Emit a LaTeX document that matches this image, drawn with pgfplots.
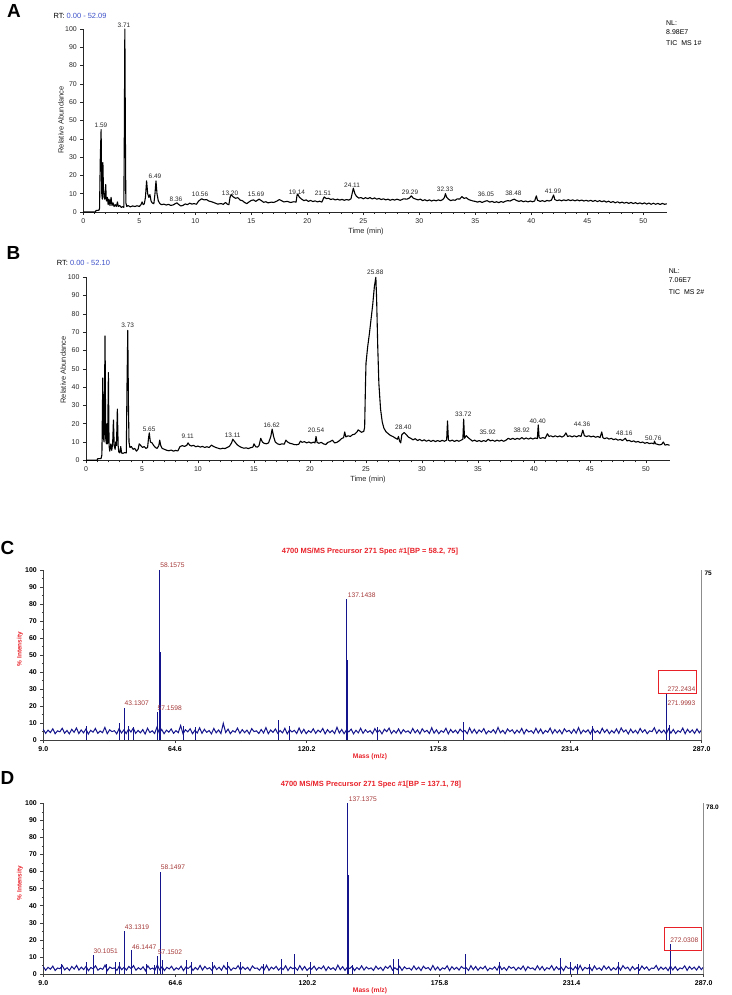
\documentclass[border=0pt]{standalone}
\usepackage{fontspec}
\setmainfont{Liberation Sans}
\usepackage{pgfplots}
\usepackage{pgfplotstable}
\pgfplotsset{compat=1.18}
\definecolor{navy}{RGB}{20,20,140}
\definecolor{titred}{RGB}{232,32,40}
\definecolor{peakred}{RGB}{165,55,55}
\definecolor{rtblue}{RGB}{60,80,200}
\newcommand{\fs}[1]{\fontsize{#1}{#1}\selectfont}
\pgfplotsset{/pgf/number format/assume math mode=true}

\pgfplotstableread[row sep=\\,header=false]{
6.2\\3.9\\5.8\\4.4\\6.6\\3.7\\5.4\\4.8\\6.9\\4.0\\5.6\\3.6\\6.3\\4.5\\7.1\\3.8\\5.9\\4.2\\6.5\\3.5\\
5.7\\4.6\\6.8\\3.9\\5.3\\4.3\\7.4\\3.7\\6.0\\4.9\\5.5\\3.6\\6.7\\4.1\\5.9\\3.8\\6.4\\4.7\\7.0\\3.9\\
5.6\\4.2\\6.1\\3.5\\6.9\\4.4\\5.4\\3.8\\7.6\\4.0\\6.2\\3.7\\5.8\\4.6\\6.5\\3.9\\5.5\\4.3\\8.5\\3.6\\
6.0\\4.8\\6.6\\3.7\\5.7\\4.1\\7.2\\3.9\\6.3\\4.5\\5.6\\3.6\\6.8\\4.2\\5.9\\3.8\\9.8\\4.4\\6.4\\3.7\\
5.5\\4.6\\7.0\\3.9\\6.1\\4.3\\5.8\\3.6\\6.7\\4.9\\5.4\\3.8\\6.2\\4.1\\7.3\\3.7\\5.9\\4.5\\6.5\\3.9\\
5.6\\4.2\\6.9\\3.6\\6.0\\4.7\\5.7\\3.8\\7.1\\4.0\\6.3\\3.7\\5.5\\4.4\\6.6\\3.9\\5.8\\4.6\\6.8\\3.6\\
6.1\\4.3\\5.6\\3.8\\7.5\\4.1\\6.2\\3.7\\5.9\\4.8\\6.4\\3.6\\5.7\\4.2\\6.9\\3.9\\6.0\\4.5\\5.5\\3.7\\
6.7\\4.4\\5.8\\3.6\\6.3\\4.9\\7.0\\3.8\\5.6\\4.1\\6.5\\3.7\\6.1\\4.6\\5.4\\3.9\\6.8\\4.2\\5.9\\3.6\\
6.6\\4.7\\5.7\\3.8\\7.2\\4.0\\6.0\\3.7\\5.5\\4.5\\6.9\\3.6\\6.2\\4.3\\5.8\\3.9\\6.4\\4.8\\5.6\\3.7\\
7.1\\4.1\\6.3\\3.8\\5.9\\4.6\\6.7\\3.6\\5.4\\4.4\\6.1\\3.9\\7.4\\4.2\\5.7\\3.7\\6.5\\4.9\\6.0\\3.8\\
5.8\\4.3\\6.8\\3.6\\6.2\\4.7\\5.5\\3.9\\6.9\\4.1\\6.4\\3.7\\5.6\\4.5\\7.0\\3.8\\6.1\\4.2\\5.9\\3.6\\
6.6\\4.8\\5.7\\3.9\\6.3\\4.0\\7.3\\3.7\\5.8\\4.6\\6.0\\3.6\\6.7\\4.3\\5.5\\3.8\\6.9\\4.4\\6.2\\3.7\\
5.6\\4.1\\6.5\\3.9\\7.1\\4.7\\5.9\\3.6\\6.4\\4.2\\5.7\\3.8\\6.8\\4.5\\6.1\\3.7\\5.4\\4.9\\7.2\\3.9\\
6.0\\4.3\\5.8\\3.6\\6.6\\4.0\\6.2\\3.8\\5.5\\4.6\\7.0\\3.7\\6.3\\4.4\\5.9\\3.9\\6.5\\4.2\\6.1\\
}\noiseC

\pgfplotstableread[row sep=\\,header=false]{
4.3\\2.2\\3.9\\2.8\\4.6\\2.0\\3.5\\3.1\\4.9\\2.4\\3.7\\2.1\\4.4\\2.9\\5.0\\2.3\\4.0\\2.6\\4.5\\1.9\\
3.8\\3.0\\4.8\\2.2\\3.4\\2.7\\5.2\\2.0\\4.1\\3.2\\3.6\\2.1\\4.7\\2.5\\4.0\\2.3\\4.4\\3.1\\4.9\\2.2\\
3.7\\2.6\\4.2\\1.9\\4.8\\2.8\\3.5\\2.3\\5.3\\2.4\\4.3\\2.0\\3.9\\3.0\\4.5\\2.2\\3.6\\2.7\\4.6\\2.0\\
4.1\\3.2\\4.6\\2.1\\3.8\\2.5\\5.0\\2.3\\4.4\\2.9\\3.7\\2.0\\4.8\\2.6\\4.0\\2.2\\4.9\\2.8\\4.4\\2.1\\
3.6\\3.0\\4.9\\2.3\\4.2\\2.7\\3.9\\2.0\\4.7\\3.3\\3.5\\2.2\\4.3\\2.5\\5.1\\2.1\\4.0\\2.9\\4.5\\2.3\\
3.7\\2.6\\4.8\\2.0\\4.1\\3.1\\3.8\\2.2\\4.9\\2.4\\4.4\\2.1\\3.6\\2.8\\4.6\\2.3\\3.9\\3.0\\4.7\\2.0\\
4.2\\2.7\\3.7\\2.2\\5.2\\2.5\\4.3\\2.1\\4.0\\3.2\\4.5\\2.0\\3.8\\2.6\\4.8\\2.3\\4.1\\2.9\\3.6\\2.1\\
4.6\\2.8\\3.9\\2.0\\4.4\\3.3\\4.9\\2.2\\3.7\\2.5\\4.5\\2.1\\4.2\\3.0\\3.5\\2.3\\4.7\\2.6\\4.0\\2.0\\
4.6\\3.1\\3.8\\2.2\\5.0\\2.4\\4.1\\2.1\\3.6\\2.9\\4.8\\2.0\\4.3\\2.7\\3.9\\2.3\\4.4\\3.2\\3.7\\2.1\\
4.9\\2.5\\4.4\\2.2\\4.0\\3.0\\4.6\\2.0\\3.5\\2.8\\4.2\\2.3\\5.1\\2.6\\3.8\\2.1\\4.5\\3.3\\4.1\\2.2\\
3.9\\2.7\\4.7\\2.0\\4.3\\3.1\\3.6\\2.3\\4.8\\2.5\\4.4\\2.1\\3.7\\2.9\\4.9\\2.2\\4.2\\2.6\\4.0\\2.0\\
4.6\\3.2\\3.8\\2.3\\4.4\\2.4\\5.0\\2.1\\3.9\\3.0\\4.1\\2.0\\4.7\\2.7\\3.6\\2.2\\4.8\\2.8\\4.3\\2.1\\
3.7\\2.5\\4.5\\2.3\\4.9\\3.1\\4.0\\2.0\\4.4\\2.6\\3.8\\2.2\\4.7\\2.9\\4.2\\2.1\\3.5\\3.2\\5.0\\2.3\\
4.1\\2.7\\3.9\\2.0\\4.6\\2.4\\4.3\\2.2\\3.6\\3.0\\4.8\\2.1\\4.4\\2.8\\4.0\\2.3\\4.5\\2.6\\4.2\\
}\noiseD

\pgfplotsset{
  chrom/.style={scale only axis, clip=false, ymin=0, ymax=100, xmin=0,
    axis x line*=bottom, axis y line*=left,
    axis line style={black!85, line width=0.5pt},
    xtick={0,5,...,50}, minor x tick num=4, ytick={0,10,...,100},
    tick align=outside, major tick length=3bp, minor tick length=2bp,
    every tick/.style={black!85, line width=0.5pt},
    tick label style={font=\fs{7}, text=black!85}},
  spec/.style={scale only axis, clip=false, ymin=0, ymax=100, xmin=9, xmax=287,
    axis x line*=bottom, axis y line*=left,
    axis line style={black!75, line width=0.6pt},
    xtick={9,64.6,120.2,175.8,231.4,287},
    xticklabels={9.0,64.6,120.2,175.8,231.4,287.0},
    minor x tick num=1, ytick={0,10,...,100}, minor y tick num=1,
    tick align=outside, major tick length=3bp, minor tick length=1.5bp,
    every tick/.style={black!75, line width=0.5pt},
    tick label style={font=\bfseries\fs{7}, text=black}},
}
\tikzset{
  plab/.style={font=\fs{6.5}, text=black!85, inner sep=0pt},
  slab/.style={font=\fs{6.7}, text=peakred, inner sep=0pt, anchor=west},
}

\begin{document}
\begin{tikzpicture}
\path (0bp,0bp) rectangle (732bp,995bp);

% ---------------- Panel A ----------------
\node[font=\bfseries\fs{19}, inner sep=0pt] at (14bp,984bp) {A};
\node[font=\fs{7.5}, anchor=west, inner sep=0pt] at (53.3bp,979.3bp) {RT: \textcolor{rtblue}{0.00 - 52.09}};
\node[font=\fs{7}, anchor=west, inner sep=0pt] at (666bp,971.7bp) {NL:};
\node[font=\fs{7}, anchor=west, inner sep=0pt] at (666bp,962.7bp) {8.98E7};
\node[font=\fs{7}, anchor=west, inner sep=0pt] at (666bp,951.7bp) {TIC\ \ MS 1\#};
\node[font=\fs{7.5}, rotate=90, text=black!85] at (61bp,875bp) {Relative Abundance};
\node[font=\fs{7.5}, text=black!85] at (366bp,763bp) {Time (min)};
\begin{axis}[chrom, at={(83.3bp,783bp)}, anchor=south west, width=583.4bp, height=183bp, xmax=52.09]
\addplot[black, line width=1.1pt, line join=round] coordinates {
(0,0) (1.10,0) (1.12,0.8) (1.40,1) (1.45,2) (1.52,30) (1.59,45) (1.65,10) (1.70,7) (1.75,27) (1.80,12) (1.85,8) (1.92,7) (2.00,15) (2.06,6) (2.15,8) (2.22,4) (2.30,7) (2.38,3.5) (2.48,8) (2.56,3.5) (2.65,5) (2.75,3) (2.85,4) (2.95,3) (3.05,5.5) (3.12,3) (3.25,3.5) (3.40,2.5) (3.55,3) (3.62,2.5) (3.66,40) (3.71,100) (3.76,40) (3.80,5) (3.88,3) (4.0,3.5) (4.2,2.8) (4.4,3.3) (4.6,3) (4.8,3.4) (5.0,3) (5.15,4) (5.25,5.5) (5.35,4) (5.45,4.5) (5.55,8) (5.65,17) (5.75,10) (5.85,8) (5.95,9.5) (6.05,6) (6.15,5) (6.30,4.5) (6.40,10) (6.49,17) (6.58,10) (6.7,6) (6.85,4.5) (7.0,4) (7.2,4.3) (7.4,3.8) (7.6,4.2) (7.8,3.6) (8.0,3.8) (8.2,4.5) (8.36,5) (8.5,4.2) (8.7,3.3) (8.9,3.6) (9.1,4.4) (9.3,4) (9.5,4.8) (9.7,4.3) (9.9,4.6) (10.1,4.2) (10.3,6) (10.56,7.2) (10.8,6.6) (11.0,6.8) (11.2,6) (11.5,5.5) (11.8,4.8) (12.0,4.3) (12.3,4.6) (12.5,4.2) (12.7,5.2) (12.85,4.3) (13.0,4) (13.1,8) (13.2,9.5) (13.4,8.2) (13.6,7.5) (13.8,7.8) (14.0,6.5) (14.2,6.2) (14.4,5.2) (14.6,4.6) (14.8,5.5) (15.0,6.3) (15.2,6.6) (15.4,5.8) (15.69,7) (15.9,6.2) (16.1,5.3) (16.3,5.6) (16.5,5.0) (16.8,5.4) (17.0,5.2) (17.3,6) (17.5,6.8) (17.7,6.2) (17.9,5.5) (18.2,5.8) (18.5,5.2) (18.8,5.6) (19.0,5.4) (19.08,9) (19.14,9.8) (19.3,8) (19.5,7) (19.7,6.2) (19.9,6.6) (20.1,5.8) (20.3,6.3) (20.5,5.7) (20.7,6.1) (20.9,5.5) (21.1,5.9) (21.3,5.4) (21.45,7.5) (21.51,8.2) (21.7,7.3) (21.9,7.5) (22.1,6.8) (22.3,7.2) (22.5,6.6) (22.7,7) (22.9,6.5) (23.1,6.9) (23.3,6.4) (23.5,6.8) (23.7,6.5) (23.9,7.2) (24.0,10) (24.11,13) (24.25,10) (24.4,8.5) (24.6,7.6) (24.8,7.9) (25.0,7.2) (25.2,7.8) (25.4,7.3) (25.6,7.9) (25.8,7.1) (26.0,7.7) (26.2,7) (26.4,7.4) (26.6,6.8) (26.8,7.2) (27.0,6.6) (27.2,7) (27.4,6.4) (27.6,6.9) (27.8,6.5) (28.0,7) (28.3,6.4) (28.6,7.2) (28.9,7) (29.1,7.6) (29.29,8.8) (29.45,7.6) (29.7,7) (29.9,6.6) (30.1,7) (30.3,6.2) (30.5,6.7) (30.7,6.1) (30.9,6.6) (31.1,6) (31.3,6.5) (31.5,6.1) (31.7,6.6) (31.9,6.2) (32.1,6.8) (32.25,8) (32.33,10) (32.45,8) (32.6,7) (32.8,6.2) (33.0,6.6) (33.2,6.4) (33.4,7.2) (33.6,7) (33.8,8.4) (34.0,7.4) (34.2,7.8) (34.4,6.8) (34.6,6.4) (34.8,6) (35.0,5.8) (35.2,5.4) (35.4,5.8) (35.6,5.2) (35.8,5.7) (36.05,6.2) (36.3,5.4) (36.5,5.8) (36.7,5.2) (36.9,5.6) (37.1,5.1) (37.3,5.7) (37.5,5.3) (37.7,5.9) (37.9,6.2) (38.1,6) (38.3,6.6) (38.48,7) (38.7,6.2) (38.9,5.8) (39.1,6.2) (39.3,5.6) (39.5,6) (39.7,5.5) (39.9,6) (40.1,5.6) (40.3,6) (40.45,8.8) (40.55,6.4) (40.8,5.8) (41.0,6.2) (41.2,5.7) (41.4,6.3) (41.6,6) (41.8,6.5) (41.99,9.3) (42.1,6.8) (42.3,6.2) (42.5,6.6) (42.7,6.1) (42.9,6.6) (43.1,6.2) (43.3,6.7) (43.5,6.2) (43.7,6.6) (43.9,6.1) (44.1,6.6) (44.3,6.1) (44.5,6.5) (44.7,6) (44.9,6.4) (45.1,5.9) (45.3,6.4) (45.5,5.8) (45.7,6.3) (45.9,5.7) (46.1,6.2) (46.3,5.6) (46.5,6.1) (46.7,5.4) (46.9,5.9) (47.1,5.2) (47.3,5.7) (47.5,5) (47.7,5.6) (47.9,4.9) (48.1,5.4) (48.3,4.8) (48.5,5.3) (48.7,4.7) (48.9,5.2) (49.1,4.6) (49.3,5.1) (49.5,4.5) (49.7,5) (49.9,4.4) (50.1,5) (50.3,4.3) (50.5,4.9) (50.7,4.2) (50.9,4.8) (51.1,4.2) (51.3,4.7) (51.5,4.1) (51.7,4.7) (51.9,4.2) (52.09,4.5)
};
\node[plab] at (axis cs:1.58,47.5) {1.59};
\node[plab] at (axis cs:3.63,102.2) {3.71};
\node[plab] at (axis cs:6.4,19.7) {6.49};
\node[plab] at (axis cs:8.28,7.1) {8.36};
\node[plab] at (axis cs:10.42,9.8) {10.56};
\node[plab] at (axis cs:13.1,10.4) {13.20};
\node[plab] at (axis cs:15.42,9.8) {15.69};
\node[plab] at (axis cs:19.08,10.9) {19.14};
\node[plab] at (axis cs:21.4,10.4) {21.51};
\node[plab] at (axis cs:24.0,14.8) {24.11};
\node[plab] at (axis cs:29.17,10.9) {29.29};
\node[plab] at (axis cs:32.3,12.6) {32.33};
\node[plab] at (axis cs:35.95,9.8) {36.05};
\node[plab] at (axis cs:38.4,10.4) {38.48};
\node[plab] at (axis cs:41.94,11.5) {41.99};
\end{axis}

% ---------------- Panel B ----------------
\node[font=\bfseries\fs{19}, inner sep=0pt] at (13.5bp,742.5bp) {B};
\node[font=\fs{7.5}, anchor=west, inner sep=0pt] at (56.7bp,731.7bp) {RT: \textcolor{rtblue}{0.00 - 52.10}};
\node[font=\fs{7}, anchor=west, inner sep=0pt] at (668.7bp,724bp) {NL:};
\node[font=\fs{7}, anchor=west, inner sep=0pt] at (668.7bp,715bp) {7.06E7};
\node[font=\fs{7}, anchor=west, inner sep=0pt] at (668.7bp,703.3bp) {TIC\ \ MS 2\#};
\node[font=\fs{7.5}, rotate=90, text=black!85] at (63.3bp,625bp) {Relative Abundance};
\node[font=\fs{7.5}, text=black!85] at (368bp,515bp) {Time (min)};
\begin{axis}[chrom, at={(86bp,534.7bp)}, anchor=south west, width=583.5bp, height=183bp, xmax=52.1]
\addplot[black, line width=1.1pt, line join=round] coordinates {
(0,0) (1.0,0) (1.02,0.8) (1.35,1) (1.42,3) (1.50,45) (1.56,12) (1.62,10) (1.70,68) (1.76,12) (1.82,9) (1.88,20) (1.93,9) (2.00,48) (2.06,8) (2.12,5) (2.22,9) (2.30,5.5) (2.38,9) (2.45,22) (2.52,8) (2.60,6) (2.66,10) (2.72,8) (2.80,28) (2.87,8) (2.93,4.5) (3.02,4) (3.10,7.5) (3.18,4) (3.30,3.8) (3.45,4.2) (3.60,4) (3.66,40) (3.73,71) (3.79,30) (3.84,10) (3.92,7) (4.05,7.5) (4.2,6) (4.35,6.5) (4.5,5) (4.65,6) (4.75,9) (4.9,8) (5.05,7) (5.2,7.5) (5.35,6.5) (5.5,7) (5.58,12) (5.65,15) (5.75,10) (5.9,9.5) (6.05,8) (6.2,7) (6.35,6.5) (6.5,8) (6.58,11) (6.68,8) (6.8,6.5) (7.0,6) (7.2,5.5) (7.4,5.2) (7.6,5.6) (7.8,5) (8.0,5.4) (8.2,5.1) (8.4,7.5) (8.6,8) (8.8,7.6) (9.0,8.2) (9.11,9.5) (9.25,8.3) (9.4,7.8) (9.6,8.2) (9.8,7.4) (10.0,7.8) (10.2,7.2) (10.4,7.6) (10.6,7) (10.8,7.4) (11.0,7) (11.2,8.3) (11.4,7.5) (11.6,7) (11.8,6.6) (12.0,6.2) (12.2,6.6) (12.4,6.4) (12.6,7) (12.8,7.6) (13.0,9.5) (13.11,11.5) (13.3,10) (13.5,8.5) (13.7,7.6) (13.9,7) (14.1,6.6) (14.3,6.8) (14.5,6.4) (14.7,6.9) (14.9,7.2) (15.0,9) (15.15,7.4) (15.3,7.2) (15.45,8) (15.6,12) (15.75,10) (15.9,9.3) (16.1,9) (16.3,9.5) (16.5,13) (16.62,17) (16.75,13) (16.9,10) (17.1,9) (17.3,8.6) (17.5,9) (17.7,8.8) (17.85,11) (18.0,10) (18.2,9.3) (18.4,9) (18.6,8.6) (18.8,8.5) (19.0,8.8) (19.15,10.5) (19.3,9.8) (19.5,10.2) (19.7,9.5) (19.9,10) (20.1,9.4) (20.3,9.9) (20.45,9.5) (20.54,13) (20.63,9.8) (20.8,9.3) (21.0,9.8) (21.2,9) (21.4,8.6) (21.6,9.8) (21.8,10.2) (22.0,11) (22.2,9.5) (22.4,9.8) (22.6,10.6) (22.8,11.8) (23.0,12.4) (23.1,15.5) (23.2,12.8) (23.4,13.4) (23.6,13) (23.8,14) (24.0,14.3) (24.2,15.5) (24.3,16.6) (24.45,16) (24.6,15.3) (24.8,15.8) (24.88,18) (24.95,40) (25.0,53) (25.15,62) (25.3,69) (25.45,77) (25.6,85) (25.75,95) (25.88,100) (25.95,88) (26.05,62) (26.15,42) (26.3,28) (26.45,21) (26.6,17.5) (26.8,15.5) (27.0,14.5) (27.2,13.5) (27.4,13) (27.6,12.2) (27.8,11.5) (27.9,13) (28.0,10.5) (28.1,9.5) (28.2,14) (28.4,15.2) (28.6,14) (28.8,12.6) (29.0,12) (29.2,11.2) (29.4,11.8) (29.6,10.8) (29.8,11.4) (30.0,10.6) (30.2,11.2) (30.4,10.4) (30.6,11) (30.8,10.3) (31.0,10.9) (31.2,10.2) (31.4,10.8) (31.6,10.3) (31.8,10.9) (32.0,10.4) (32.2,11) (32.28,21.5) (32.36,11) (32.5,10.5) (32.7,11) (32.9,10.3) (33.1,10.9) (33.3,10.4) (33.5,11) (33.65,11.5) (33.72,22.5) (33.8,12) (33.95,13.5) (34.1,12.5) (34.3,11.5) (34.5,10.5) (34.7,11) (34.9,10.3) (35.1,10.8) (35.3,10.2) (35.5,10.8) (35.7,10.3) (35.92,11.5) (36.1,10.6) (36.3,11) (36.5,10.4) (36.7,11) (36.9,10.5) (37.1,11) (37.3,10.4) (37.5,11) (37.7,12) (37.9,11.4) (38.1,12) (38.3,11.4) (38.5,12) (38.7,11.5) (38.92,12.4) (39.1,11.6) (39.3,12.2) (39.5,11.6) (39.7,12.2) (39.9,11.6) (40.1,12.2) (40.3,11.8) (40.38,19.3) (40.46,12.3) (40.6,12) (40.8,12.4) (41.0,12) (41.2,14.5) (41.35,13) (41.5,13.4) (41.7,12.8) (41.9,13.4) (42.1,12.8) (42.3,13.3) (42.5,12.7) (42.7,13.4) (42.85,15) (43.0,13) (43.2,13.4) (43.4,12.8) (43.6,13.4) (43.8,12.8) (44.0,13.5) (44.2,13) (44.36,16.5) (44.5,13.4) (44.7,13) (44.9,13.4) (45.1,12.8) (45.3,13.2) (45.5,12.6) (45.7,13) (45.9,12.4) (46.05,15.5) (46.15,12.4) (46.3,11.8) (46.5,12.3) (46.7,11.6) (46.9,12) (47.1,11.3) (47.3,11.7) (47.5,11) (47.7,11.4) (47.9,10.8) (48.16,12) (48.3,10.6) (48.5,10.9) (48.7,10.2) (48.9,10.6) (49.1,9.9) (49.3,10.3) (49.5,9.6) (49.7,10) (49.9,9.3) (50.1,9.7) (50.3,9.1) (50.5,9.4) (50.7,9) (50.76,10.5) (50.85,9) (51.0,8.8) (51.2,8.4) (51.4,8.7) (51.55,10) (51.7,8.3) (51.9,8.6) (52.1,8.2)
};
\node[plab] at (axis cs:3.72,73.9) {3.73};
\node[plab] at (axis cs:5.63,16.9) {5.65};
\node[plab] at (axis cs:9.08,12.9) {9.11};
\node[plab] at (axis cs:13.1,13.8) {13.11};
\node[plab] at (axis cs:16.58,19.3) {16.62};
\node[plab] at (axis cs:20.54,16.6) {20.54};
\node[plab] at (axis cs:25.83,102.5) {25.88};
\node[plab] at (axis cs:28.33,17.8) {28.40};
\node[plab] at (axis cs:33.69,25.3) {33.72};
\node[plab] at (axis cs:35.87,15.1) {35.92};
\node[plab] at (axis cs:38.9,16.2) {38.92};
\node[plab] at (axis cs:40.33,21.5) {40.40};
\node[plab] at (axis cs:44.29,19.7) {44.36};
\node[plab] at (axis cs:48.06,14.8) {48.16};
\node[plab] at (axis cs:50.65,12.3) {50.76};
\end{axis}

% ---------------- Panel C ----------------
\node[font=\bfseries\fs{19}, inner sep=0pt] at (7.5bp,447.5bp) {C};
\node[font=\bfseries\fs{7.5}, text=titred] at (370bp,443bp) {4700 MS/MS Precursor 271 Spec \#1[BP = 58.2, 75]};
\node[font=\bfseries\fs{6.7}, text=titred] at (370bp,238.3bp) {Mass (m/z)};
\node[font=\bfseries\fs{6.5}, text=titred, rotate=90] at (20bp,346bp) {\% Intensity};
\node[font=\bfseries\fs{6.5}, anchor=west, inner sep=0pt] at (704.3bp,421.7bp) {75};
\begin{axis}[spec, at={(43.3bp,255bp)}, anchor=south west, width=658.4bp, height=170bp]
\addplot[navy, line width=1pt] table[x expr=\coordindex+9, y index=0] {\noiseC};
\addplot[navy, ycomb, line width=0.7pt] coordinates {
(27,8.5) (41.0,10) (43.13,18.6) (45,8) (47,7.5) (57.16,16.7) (58.16,100) (68,8) (73,7.5) (108.2,11.8) (113,8) (137.14,83) (150,7.5) (186.4,10.5) (241,8.5) (271.99,17) (272.24,27) (273.5,9)
};
\addplot[navy, ycomb, line width=1.1pt] coordinates {(58.35,52) (137.3,47) (272.1,16)};
\draw[black!45, line width=0.8pt] (rel axis cs:1,0) -- (rel axis cs:1,1);
\node[slab] at (axis cs:58.4,103) {58.1575};
\node[slab] at (axis cs:137.5,85.3) {137.1438};
\node[slab] at (axis cs:43.3,21.8) {43.1307};
\node[slab] at (axis cs:57.2,18.8) {57.1598};
\node[slab] at (axis cs:272.5,30) {272.2434};
\node[slab] at (axis cs:272.5,21.4) {271.9993};
\draw[titred, line width=0.8pt] (axis cs:268.7,27.5) rectangle (axis cs:284.6,41);
\end{axis}

% ---------------- Panel D ----------------
\node[font=\bfseries\fs{19}, inner sep=0pt] at (7.5bp,217bp) {D};
\node[font=\bfseries\fs{7.5}, text=titred] at (371bp,210bp) {4700 MS/MS Precursor 271 Spec \#1[BP = 137.1, 78]};
\node[font=\bfseries\fs{6.7}, text=titred, inner sep=0pt] at (370bp,4bp) {Mass (m/z)};
\node[font=\bfseries\fs{6.5}, text=titred, rotate=90] at (20bp,112bp) {\% Intensity};
\node[font=\bfseries\fs{6.5}, anchor=west, inner sep=0pt] at (706bp,187.7bp) {78.0};
\begin{axis}[spec, at={(43.3bp,21bp)}, anchor=south west, width=660.4bp, height=170.7bp]
\addplot[navy, line width=1pt] table[x expr=\coordindex+9, y index=0] {\noiseD};
\addplot[navy, ycomb, line width=0.7pt] coordinates {
(16.5,6) (27,7) (30.0,11) (35.5,6) (39.3,7) (41.1,7) (43.13,25) (46.14,14) (52.2,6) (55.7,5) (57.15,10.7) (58.15,60) (59.3,8) (69.1,8) (71.4,7) (80.1,7) (86.4,7) (92.1,7) (101.5,6) (109.4,9) (114.6,11.5) (121.3,7) (137.14,100) (138.9,5) (156.5,9) (158.6,9) (186.8,11.7) (200.9,7) (226.7,9.5) (230.9,7) (234,6) (239,6) (251.2,7) (259.4,6) (272.9,17.4)
};
\addplot[navy, ycomb, line width=1.1pt] coordinates {(58.35,32.6) (137.3,58)};
\draw[black!45, line width=0.8pt] (rel axis cs:1,0) -- (rel axis cs:1,1);
\node[slab] at (axis cs:137.6,102.5) {137.1375};
\node[slab] at (axis cs:58.4,62.7) {58.1497};
\node[slab] at (axis cs:43.3,27.5) {43.1319};
\node[slab] at (axis cs:46.3,15.8) {46.1447};
\node[slab] at (axis cs:57.2,12.9) {57.1502};
\node[slab] at (axis cs:30.1,13.5) {30.1051};
\node[slab] at (axis cs:272.9,19.9) {272.0308};
\draw[titred, line width=0.8pt] (axis cs:270.4,13.6) rectangle (axis cs:286,27.1);
\end{axis}
\end{tikzpicture}
\end{document}
